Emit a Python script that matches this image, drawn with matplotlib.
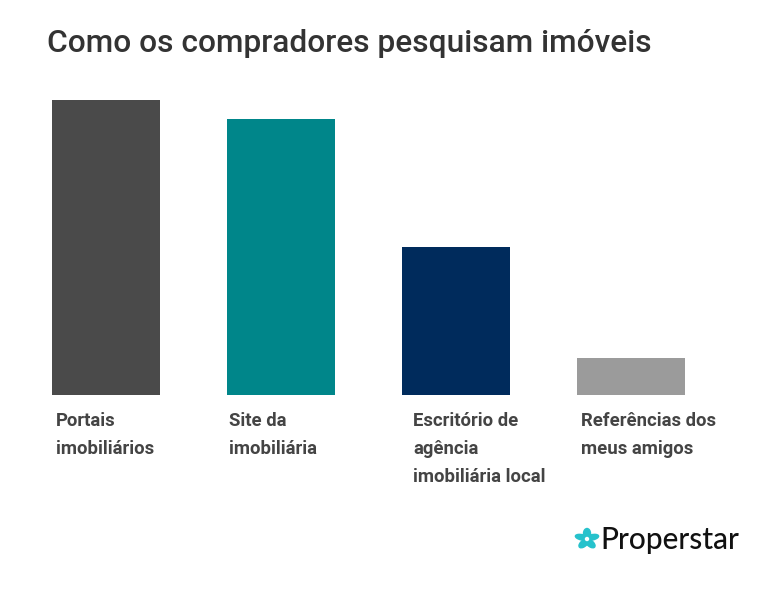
import numpy as np
import matplotlib.pyplot as plt
from matplotlib.patches import Ellipse

categorias = ['Portais\nimobiliários', 'Site da\nimobiliária',
              'Escritório de\nagência\nimobiliária local', 'Referências dos\nmeus amigos']
valores = [59, 55.2, 29.6, 7.4]
cores = ['#4a4a4a', '#00868a', '#002b5c', '#9b9b9b']

W, H = 783, 592
fig = plt.figure(figsize=(W / 100, H / 100), dpi=100)

# eixo das barras: base em y=395px, topo da maior barra em y=100px
passo = 175.0
c0 = 106.0
ax = fig.add_axes([0, (H - 395) / H, 1, (395 - 100) / H])
x = np.arange(len(valores))
largura = 108 / passo
ax.bar(x, valores, width=largura, color=cores)
ax.set_xlim(-c0 / passo, (W - c0) / passo)
ax.set_ylim(0, max(valores))
ax.axis('off')

# rótulos abaixo das barras, alinhados à esquerda
x_rotulos = [56, 229, 413, 581]
for xp, txt in zip(x_rotulos, categorias):
    fig.text(xp / W, 1 - 412 / H, txt, ha='left', va='top', fontsize=13.3,
             family='Roboto', fontweight='bold', color='#444444',
             linespacing=1.73)

fig.text(47 / W, 1 - 44 / H, 'Como os compradores pesquisam imóveis',
         ha='left', va='center', fontsize=22.8, family='Roboto',
         fontweight='medium', color='#333333')

# logo Properstar
lx, ly = 587, 539
for k in range(5):
    a = np.pi / 2 + k * 2 * np.pi / 5
    px = lx + 5.5 * np.cos(a)
    py = ly - 5.5 * np.sin(a)
    e = Ellipse((px / W, 1 - py / H), 7 / W, 10 / H,
                angle=np.degrees(a) - 90, color='#26c2cc',
                transform=fig.transFigure)
    fig.add_artist(e)
fig.add_artist(Ellipse((lx / W, 1 - ly / H), 3 / W, 3 / H, color='white',
                       transform=fig.transFigure))
fig.text(600 / W, 1 - 540 / H, 'Properstar', ha='left', va='center',
         fontsize=21.5, family='Lato', fontweight='medium', color='#111111')

fig.savefig('out.png', dpi=100)
